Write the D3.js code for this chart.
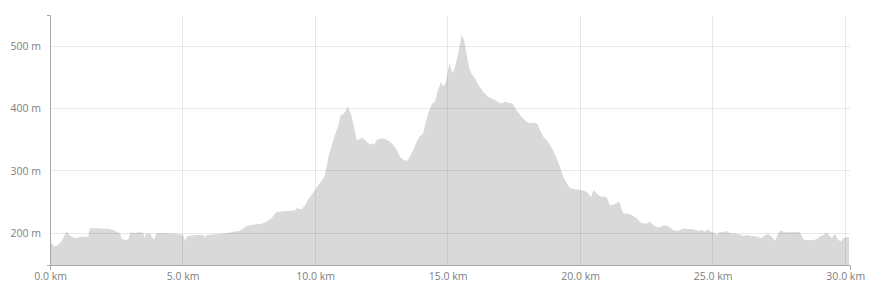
<!DOCTYPE html>
<html>
<head>
<meta charset="utf-8">
<script src="https://cdn.jsdelivr.net/npm/d3@7"></script>
<style>
  body { margin: 0; background: #fff; }
  .axis text { font-family: "Open Sans", sans-serif; font-size: 10.5px; fill: #808080; }
  .axis path, .axis line { stroke: #a8a8a8; }
  .grid line { stroke: rgba(0,0,0,0.085); shape-rendering: crispEdges; }
</style>
</head>
<body>
<div id="chart"></div>
<script>
// elevation profile
var distKm = [0, 0.06, 0.15, 0.25, 0.38, 0.50, 0.59, 0.64, 0.72, 0.82, 0.94, 1.07, 1.26, 1.44, 1.50, 1.63, 1.82, 2.01, 2.20, 2.39,
  2.52, 2.64, 2.70, 2.83, 2.95, 3.02, 3.10, 3.21, 3.33, 3.52, 3.56, 3.62, 3.71, 3.77, 3.84, 3.93, 4.02, 4.21, 4.40, 4.65,
  4.90, 5.03, 5.09, 5.16, 5.28, 5.53, 5.78, 5.85, 5.91, 6.16, 6.41, 6.67, 6.91, 7.17, 7.29, 7.42, 7.61, 7.80, 7.99, 8.17,
  8.36, 8.49, 8.61, 8.68, 8.86, 9.05, 9.24, 9.31, 9.49, 9.62, 9.74, 9.87, 10.00, 10.12, 10.25, 10.35, 10.44, 10.50, 10.63, 10.75,
  10.88, 10.97, 11.06, 11.13, 11.23, 11.32, 11.40, 11.48, 11.57, 11.69, 11.78, 11.91, 12.07, 12.16, 12.23, 12.32, 12.45, 12.64, 12.83, 12.95,
  13.08, 13.20, 13.33, 13.48, 13.58, 13.70, 13.83, 13.96, 14.08, 14.18, 14.27, 14.40, 14.52, 14.62, 14.74, 14.84, 14.94, 15.00, 15.06, 15.12,
  15.19, 15.28, 15.40, 15.53, 15.62, 15.72, 15.82, 15.91, 16.03, 16.16, 16.34, 16.53, 16.72, 16.91, 17.04, 17.16, 17.29, 17.42, 17.48, 17.60,
  17.79, 17.98, 18.11, 18.27, 18.40, 18.48, 18.61, 18.74, 18.86, 18.99, 19.11, 19.24, 19.36, 19.49, 19.62, 19.80, 19.99, 20.18, 20.31, 20.41,
  20.50, 20.62, 20.75, 20.87, 21.00, 21.12, 21.25, 21.38, 21.48, 21.57, 21.65, 21.75, 21.88, 22.00, 22.13, 22.26, 22.38, 22.51, 22.63, 22.76,
  22.89, 23.01, 23.13, 23.26, 23.39, 23.51, 23.64, 23.76, 23.89, 24.08, 24.27, 24.45, 24.58, 24.71, 24.83, 24.92, 25.09, 25.15, 25.25, 25.40,
  25.53, 25.65, 25.84, 26.03, 26.15, 26.28, 26.47, 26.66, 26.85, 26.97, 27.10, 27.22, 27.35, 27.47, 27.57, 27.73, 27.91, 28.10, 28.29, 28.42,
  28.54, 28.73, 28.92, 29.05, 29.17, 29.30, 29.38, 29.49, 29.61, 29.74, 29.84, 29.93, 30.05, 30.14]
var elevM = [186.5, 184, 178.5, 180, 184, 192, 200, 202.5, 197, 194.5, 192, 193.5, 194.5, 194.5, 208, 208, 208, 207, 207, 205,
  202.5, 200, 191, 189, 190, 200, 201.5, 200, 201.5, 201, 192, 200, 199, 200, 194.5, 190, 200, 200.5, 200, 199.5,
  198.5, 197, 187.5, 194.5, 196, 197, 197, 193, 197, 198, 199, 200, 202.5, 204, 208, 211.5, 213, 214.5, 215, 218.5,
  224, 232, 234.5, 234.5, 235.7, 235.7, 237, 240, 238.5, 245, 254.5, 261.5, 269.5, 277.5, 284, 290.7, 306.7, 322.7, 341.5, 357.5,
  373.5, 389.5, 390.7, 394.8, 403, 394.8, 384, 368, 349.5, 351, 353, 348, 342.7, 344, 341.5, 349.5, 352, 351, 346.8, 341.5,
  333.5, 322.7, 317.5, 316.3, 322.7, 333.5, 346.8, 356, 360, 378.8, 392.3, 407.2, 411, 427, 442, 435, 443, 456.4, 472.4, 464.4,
  456.4, 467, 488.5, 517.8, 509.8, 485.8, 464.4, 454.8, 448.4, 437.7, 427, 419, 415.2, 410, 408.3, 411, 409.4, 408.3, 405.6, 397.6,
  386.9, 378.8, 376.3, 377.3, 374.7, 365.6, 354.8, 349.5, 341.5, 332.4, 320.2, 306.7, 290.7, 280, 272, 270.5, 269.4, 267.8, 264, 257.7,
  269.4, 264, 258.7, 258.7, 257.7, 245.4, 245.4, 249, 250.6, 238, 231, 232, 230.4, 227.7, 224, 217.6, 216, 215, 218.6, 213.3,
  209.6, 209.6, 212.2, 212.2, 209, 205.3, 203.7, 205.3, 207.4, 206.9, 206.4, 203.7, 205.3, 202.6, 206.4, 202.6, 200, 197.3, 201.6, 201.6,
  203.7, 200, 199.4, 198, 195.7, 197.3, 195.7, 194.6, 192, 197.3, 198.4, 194.6, 187.7, 200, 204.2, 201.6, 201.6, 202.1, 201.6, 190.4,
  189.3, 188.8, 190.4, 194.6, 197.3, 201, 197.3, 192, 198.9, 189.3, 186.6, 192, 193.6, 193.6]

var xTicks = [0, 5, 10, 15, 20, 25, 30]
var yTicks = [200, 300, 400, 500]
var xMax = 30.18
var yMin = 149, yMax = 550

var margin = {top: 15, right: 20, bottom: 29, left: 50},
    width = 870 - margin.left - margin.right,
    height = 294 - margin.top - margin.bottom;

var profile = distKm.map(function(d, i) { return {km: d, ele: elevM[i]} })

var svg = d3.select('#chart')
  .append('svg')
    .attr('width', width + margin.left + margin.right)
    .attr('height', height + margin.top + margin.bottom)
  .append('g')
    .attr('transform', 'translate(' + margin.left + ',' + margin.top + ')');

var x = d3.scaleLinear().domain([0, xMax]).range([0, width]);
var y = d3.scaleLinear().domain([yMin, yMax]).range([height, 0]);

// filled profile
svg.append('path')
  .datum(profile)
  .attr('fill', '#d9d9d9')
  .attr('d', d3.area()
    .x(function(d) { return x(d.km) })
    .y0(height)
    .y1(function(d) { return y(d.ele) }));

// grid lines sit on top of the area
svg.append('g').attr('class', 'grid')
  .selectAll('line').data(yTicks).enter().append('line')
    .attr('x1', 0).attr('x2', width)
    .attr('y1', function(d) { return y(d) }).attr('y2', function(d) { return y(d) });
svg.append('g').attr('class', 'grid')
  .selectAll('line').data(xTicks.slice(1)).enter().append('line')
    .attr('y1', 0).attr('y2', height)
    .attr('x1', function(d) { return x(d) }).attr('x2', function(d) { return x(d) });

svg.append('g')
  .attr('class', 'axis')
  .attr('transform', 'translate(0,' + height + ')')
  .call(d3.axisBottom(x).tickValues(xTicks).tickSizeInner(0).tickSizeOuter(5).tickPadding(8)
    .tickFormat(function(d) { return d.toFixed(1) + ' km' }));

svg.append('g')
  .attr('class', 'axis')
  .call(d3.axisLeft(y).tickValues(yTicks).tickSizeInner(0).tickSizeOuter(3).tickPadding(9)
    .tickFormat(function(d) { return d + ' m' }));
</script>
</body>
</html>
